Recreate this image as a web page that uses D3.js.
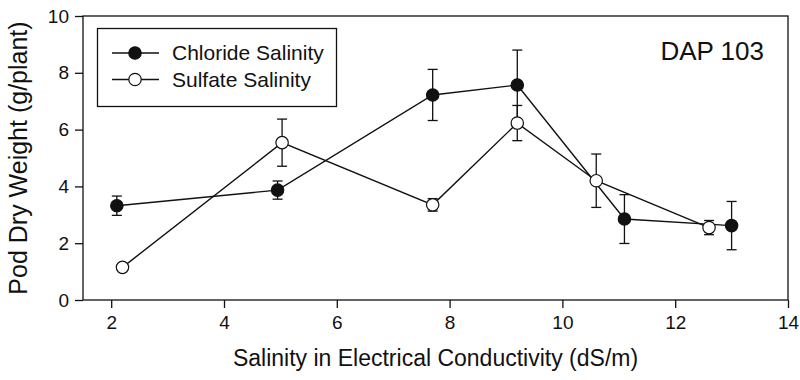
<!DOCTYPE html>
<html>
<head>
<meta charset="utf-8">
<script src="https://cdn.jsdelivr.net/npm/d3@7"></script>
<style>
  html, body { margin: 0; padding: 0; background: #fff; }
  svg { display: block; font-family: "Liberation Sans", Arial, Helvetica, sans-serif; }
</style>
</head>
<body>
<svg id="chart" width="800" height="380"></svg>
<script>
// Salinity levels (EC, dS/m) and pod dry weight means with error bars
const chlorideEC = [2.1, 4.95, 7.7, 9.2, 11.1, 13.0];
const chlorideWeight = [3.32, 3.87, 7.22, 7.57, 2.85, 2.62];
const chlorideErr = [0.34, 0.32, 0.9, 1.23, 0.86, 0.85];

const sulfateEC = [2.2, 5.03, 7.7, 9.2, 10.6, 12.6];
const sulfateWeight = [1.15, 5.54, 3.35, 6.23, 4.2, 2.55];
const sulfateErr = [0.1, 0.83, 0.22, 0.62, 0.94, 0.25];

const xTicks = [2, 4, 6, 8, 10, 12, 14];
const yTicks = [0, 2, 4, 6, 8, 10];

const seriesNames = ["Chloride Salinity", "Sulfate Salinity"];
const panelLabel = "DAP 103";
const xTitle = "Salinity in Electrical Conductivity (dS/m)";
const yTitle = "Pod Dry Weight (g/plant)";

const svg = d3.select("#chart");
const m = { left: 83, right: 12, top: 16, bottom: 80 };
const W = 800, H = 380;

const x = d3.scaleLinear().domain([1.5, 14]).range([m.left, W - m.right]);
const y = d3.scaleLinear().domain([0, 10]).range([H - m.bottom, m.top]);

const ink = "#111";

// frame
svg.append("rect")
  .attr("x", x.range()[0]).attr("y", y.range()[1])
  .attr("width", x.range()[1] - x.range()[0])
  .attr("height", y.range()[0] - y.range()[1])
  .attr("fill", "none").attr("stroke", ink).attr("stroke-width", 1.3);

// axes
const xAxis = svg.append("g")
  .attr("transform", `translate(0,${y(0)})`)
  .call(d3.axisBottom(x).tickValues(xTicks).tickSize(8).tickPadding(8).tickFormat(d3.format("d")));
const yAxis = svg.append("g")
  .attr("transform", `translate(${x.range()[0]},0)`)
  .call(d3.axisLeft(y).tickValues(yTicks).tickSize(8).tickPadding(6).tickFormat(d3.format("d")));

[xAxis, yAxis].forEach(g => {
  g.select(".domain").remove();
  g.selectAll(".tick line").attr("stroke", ink).attr("stroke-width", 1.3);
  g.selectAll(".tick text").attr("fill", ink)
    .style("font-size", "19px")
    .style("font-family", '"Liberation Sans", Arial, sans-serif');
});

// titles
svg.append("text")
  .attr("x", (x.range()[0] + x.range()[1]) / 2)
  .attr("y", 366)
  .attr("text-anchor", "middle")
  .attr("fill", ink)
  .style("font-size", "23px")
  .text(xTitle);

svg.append("text")
  .attr("transform", `translate(27,${(y.range()[0] + y.range()[1]) / 2}) rotate(-90)`)
  .attr("text-anchor", "middle")
  .attr("fill", ink)
  .style("font-size", "25px")
  .text(yTitle);

svg.append("text")
  .attr("x", 764).attr("y", 60)
  .attr("text-anchor", "end")
  .attr("fill", ink)
  .style("font-size", "26px")
  .text(panelLabel);

// series
const series = [
  { ec: chlorideEC, w: chlorideWeight, e: chlorideErr, fill: ink },
  { ec: sulfateEC, w: sulfateWeight, e: sulfateErr, fill: "#fff" }
].map(s => ({ ...s, pts: s.ec.map((v, i) => ({ x: v, y: s.w[i], e: s.e[i] })) }));

const line = d3.line().x(d => x(d.x)).y(d => y(d.y));

series.forEach(s => {
  svg.append("path").datum(s.pts)
    .attr("d", line).attr("fill", "none")
    .attr("stroke", ink).attr("stroke-width", 1.4);
});

const cap = 5;
series.forEach(s => {
  const g = svg.append("g").attr("stroke", ink).attr("stroke-width", 1.3);
  s.pts.forEach(p => {
    const x0 = x(p.x), yt = y(p.y + p.e), yb = y(p.y - p.e);
    g.append("line").attr("x1", x0).attr("x2", x0).attr("y1", yt).attr("y2", yb);
    g.append("line").attr("x1", x0 - cap).attr("x2", x0 + cap).attr("y1", yt).attr("y2", yt);
    g.append("line").attr("x1", x0 - cap).attr("x2", x0 + cap).attr("y1", yb).attr("y2", yb);
  });
});

series.forEach(s => {
  svg.append("g").selectAll("circle").data(s.pts).join("circle")
    .attr("cx", d => x(d.x)).attr("cy", d => y(d.y)).attr("r", 6.2)
    .attr("fill", s.fill).attr("stroke", ink).attr("stroke-width", 1.2);
});

// legend
const lg = svg.append("g");
lg.append("rect").attr("x", 97.5).attr("y", 28.5).attr("width", 239).attr("height", 78)
  .attr("fill", "#fff").attr("stroke", ink).attr("stroke-width", 1.3);
series.forEach((s, i) => {
  const ly = 53 + i * 26.5;
  lg.append("line").attr("x1", 112).attr("x2", 159).attr("y1", ly).attr("y2", ly)
    .attr("stroke", ink).attr("stroke-width", 1.4);
  lg.append("circle").attr("cx", 135).attr("cy", ly).attr("r", 6.2)
    .attr("fill", s.fill).attr("stroke", ink).attr("stroke-width", 1.2);
  lg.append("text").attr("x", 172).attr("y", ly).attr("dy", "0.35em")
    .attr("fill", ink).style("font-size", "21px").text(seriesNames[i]);
});
</script>
</body>
</html>
